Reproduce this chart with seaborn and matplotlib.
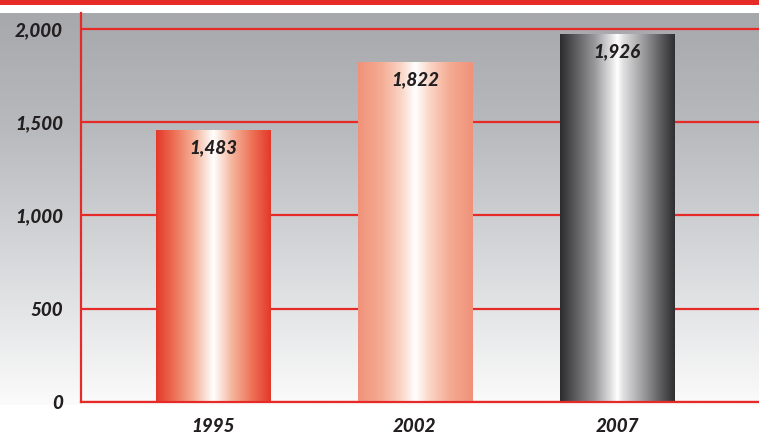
import numpy as np
import pandas as pd
import matplotlib
matplotlib.use("Agg")
import matplotlib.pyplot as plt
from matplotlib.colors import LinearSegmentedColormap
from matplotlib.ticker import FuncFormatter
import seaborn as sns

# ---- data ----
years = ["1995", "2002", "2007"]
bar_heights = [1459, 1824, 1974]      # bar heights as drawn
value_labels = ["1,483", "1,822", "1,926"]  # printed values
yticks = [0, 500, 1000, 1500, 2000]

sns.set_theme(style="white")
plt.rcParams['font.family'] = ['Lato', 'DejaVu Sans']

W, H = 759, 443
fig = plt.figure(figsize=(W / 100, H / 100), dpi=100)
fig.patch.set_facecolor("white")

# background gradient axes
bg = fig.add_axes([0, 0, 1, 1], zorder=-5)
bg.set_xlim(0, W)
bg.set_ylim(H, 0)
bg.axis("off")
grad_cmap = LinearSegmentedColormap.from_list(
    "bg", [(0, "#a7a8ac"), (0.3, "#b9babd"), (0.7, "#dedfe1"), (1.0, "#fbfbfb")])
g = np.linspace(0, 1, 256).reshape(-1, 1)
bg.imshow(g, cmap=grad_cmap, extent=[0, W, 405, 13], aspect="auto", zorder=0)
bg.add_patch(plt.Rectangle((0, 0), W, 5, color="#e52a27", zorder=1, lw=0))

# main axes
left, right = 81 / W, 1.0
bottom, top = (H - 401.7) / H, (H - 13) / H
ax = fig.add_axes([left, bottom, right - left, top - bottom])
ax.set_facecolor("none")

df = pd.DataFrame({"year": years, "value": bar_heights})
sns.barplot(data=df, x="year", y="value", ax=ax, width=0.565,
            color="white", saturation=1, zorder=3)

cmaps = [
    LinearSegmentedColormap.from_list("r", [
        (0, "#e4382a"), (0.15, "#ec6d52"), (0.33, "#f5b29a"),
        (0.5, "#ffffff"), (0.67, "#f5b29a"), (0.85, "#ec6d52"), (1, "#e4382a")]),
    LinearSegmentedColormap.from_list("s", [
        (0, "#f0927a"), (0.2, "#f5ab92"), (0.38, "#fad6c8"),
        (0.5, "#ffffff"), (0.62, "#fad6c8"), (0.8, "#f5ab92"), (1, "#f0927a")]),
    LinearSegmentedColormap.from_list("g", [
        (0, "#2c2c2e"), (0.1, "#505053"), (0.3, "#98989b"), (0.45, "#e4e4e5"),
        (0.5, "#ffffff"), (0.55, "#e0e0e1"), (0.72, "#9e9ea0"), (0.9, "#545456"),
        (1, "#2f2f31")]),
]
hgrad = np.linspace(0, 1, 256).reshape(1, -1)
txt_kw = dict(fontsize=13.5, fontweight="black", fontstyle="italic", color="#231f20")
for p, cm, lab in zip(ax.patches, cmaps, value_labels):
    x0, y0 = p.get_x(), p.get_y()
    w, h = p.get_width(), p.get_height()
    p.set_facecolor("none")
    p.set_edgecolor("none")
    ax.imshow(hgrad, cmap=cm, extent=[x0, x0 + w, y0, y0 + h],
              aspect="auto", zorder=3, interpolation="bilinear")
    ax.annotate(lab, (x0 + w / 2, y0 + h), xytext=(0, -13),
                textcoords="offset points", ha="center", va="center",
                zorder=5, **txt_kw)

ax.set_xlim(-0.653, 2.703)
ax.set_ylim(0, 2087)
ax.set_yticks(yticks)
ax.yaxis.set_major_formatter(FuncFormatter(lambda v, _: f"{int(v):,}"))
ax.grid(axis="y", color="#e52a27", lw=1.6, zorder=1)
ax.grid(axis="x", visible=False)
ax.set_axisbelow(True)
ax.set_xlabel("")
ax.set_ylabel("")
for s in ["top", "right"]:
    ax.spines[s].set_visible(False)
for s in ["left", "bottom"]:
    ax.spines[s].set_color("#e52a27")
    ax.spines[s].set_linewidth(1.6)
    ax.spines[s].set_zorder(4)
ax.tick_params(axis="y", length=0, pad=13)
ax.tick_params(axis="x", length=0, pad=12)
for t in ax.get_xticklabels() + ax.get_yticklabels():
    t.set_fontsize(txt_kw["fontsize"])
    t.set_fontweight(txt_kw["fontweight"])
    t.set_fontstyle(txt_kw["fontstyle"])
    t.set_color(txt_kw["color"])

fig.savefig("out.png", dpi=100)
